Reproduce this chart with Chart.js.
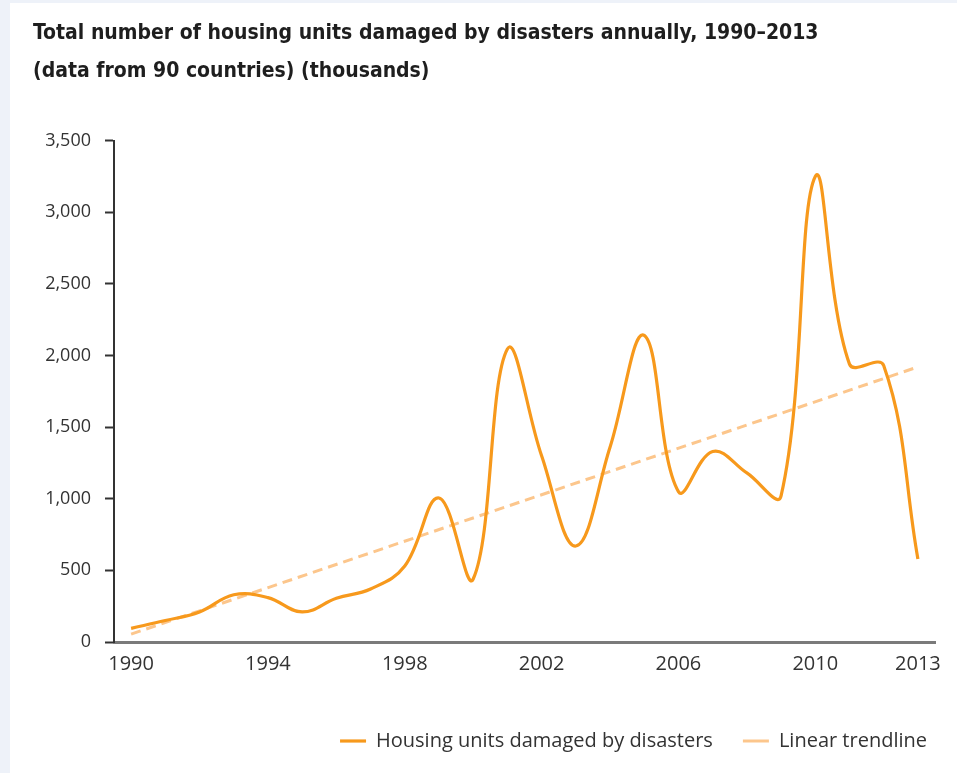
<!DOCTYPE html>
<html>
<head>
<meta charset="utf-8">
<script src="https://cdn.jsdelivr.net/npm/chart.js@4.4.1/dist/chart.umd.min.js"></script>
<style>
  html, body { margin: 0; padding: 0; background: #eef2f9; }
  .card {
    position: absolute; left: 10px; top: 3px;
    width: 947px; height: 770px; background: #fff;
  }
</style>
</head>
<body>
<div class="card"><canvas id="housingChart"></canvas></div>
<script>
// values, thousands of housing units
const years = ['1990', '1991', '1992', '1993', '1994', '1995', '1996', '1997',
  '1998', '1999', '2000', '2001', '2002', '2003', '2004', '2005',
  '2006', '2007', '2008', '2009', '2010', '2011', '2012', '2013'];
const damaged = [95, 150, 210, 330, 310, 210, 305, 370,
  530, 1005, 440, 2045, 1300, 670, 1360, 2140,
  1050, 1330, 1180, 1020, 3250, 1940, 1930, 580];

// linear trendline end points
const trendYears = ['1990', '2013'];
const trendValues = [55, 1920];

const xTickLabels = ['1990', '1994', '1998', '2002', '2006', '2010', '2013'];
const yTicks = [0, 500, 1000, 1500, 2000, 2500, 3000, 3500];

const textFont = "'Open Sans', sans-serif";
const orange = '#f7991c';
const lightOrange = '#fcc68c';

const ctx = document.getElementById('housingChart').getContext('2d');
new Chart(ctx, {
  type: 'line',
  data: {
    labels: years,
    datasets: [{
      label: 'Housing units damaged by disasters',
      data: damaged,
      borderColor: orange,
      backgroundColor: orange,
      borderWidth: 3.2,
      tension: 0.4,
      pointRadius: 0,
      fill: false
    }, {
      label: 'Linear trendline',
      data: trendYears.map((y, i) => ({ x: y, y: trendValues[i] })),
      borderColor: lightOrange,
      backgroundColor: lightOrange,
      borderWidth: 3,
      borderDash: [10, 6],
      pointRadius: 0,
      fill: false
    }]
  },
  options: {
    responsive: true,
    maintainAspectRatio: false,
    animation: false,
    layout: { padding: { left: 23, right: 0, top: 12, bottom: 12 } },
    plugins: {
      title: {
        display: true,
        align: 'start',
        text: ['Total number of housing units damaged by disasters annually, 1990–2013',
               '(data from 90 countries) (thousands)'],
        color: '#1e1e1e',
        font: { family: "'DejaVu Sans Condensed', sans-serif", size: 21, weight: 'bold', lineHeight: 1.8 },
        padding: { top: 0, bottom: 50 }
      },
      legend: {
        position: 'bottom',
        align: 'end',
        labels: {
          usePointStyle: true,
          pointStyle: 'line',
          pointStyleWidth: 26,
          color: '#333',
          padding: 30,
          font: { family: textFont, size: 20 }
        }
      },
      tooltip: { enabled: false }
    },
    scales: {
      x: {
        offset: true,
        afterFit: (scale) => { scale.height += 15; },
        grid: { display: false, drawTicks: false },
        border: { display: true, color: '#7a7a7a', width: 3 },
        ticks: {
          autoSkip: false,
          maxRotation: 0,
          padding: 10,
          color: '#333',
          font: { family: textFont, size: 20 },
          callback: function (value, index) {
            const label = years[index];
            return xTickLabels.includes(label) ? label : '';
          }
        }
      },
      y: {
        min: 0,
        max: 3500,
        afterBuildTicks: (scale) => { scale.ticks = yTicks.map(v => ({ value: v })); },
        afterFit: (scale) => { scale.width = 81; },
        grid: { drawOnChartArea: false, tickLength: 9, tickWidth: 2, tickColor: '#333' },
        border: { display: true, color: '#333', width: 2 },
        ticks: {
          padding: 14,
          color: '#333',
          font: { family: textFont, size: 18 },
          callback: (v) => v.toLocaleString('en-US')
        }
      },
      // empty right-hand axis, only keeps the plot clear of the card edge
      yRight: {
        position: 'right',
        afterFit: (scale) => { scale.width = 22; },
        grid: { display: false },
        border: { display: false },
        ticks: { display: false }
      }
    }
  }
});
</script>
</body>
</html>
